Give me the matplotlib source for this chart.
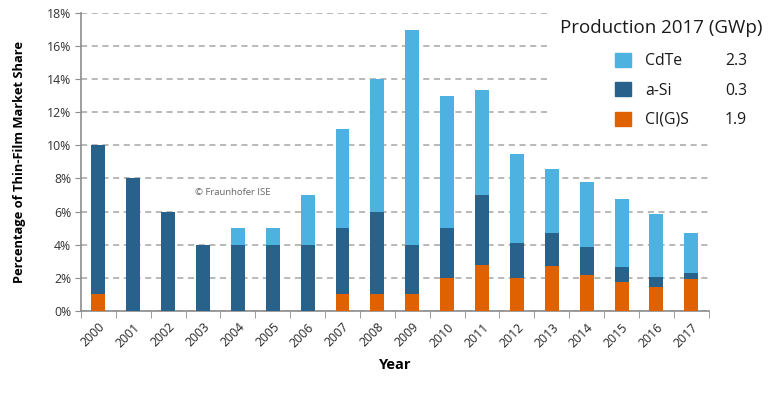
import numpy as np
import matplotlib
matplotlib.use("Agg")
import matplotlib.pyplot as plt
from matplotlib.patches import Patch, Rectangle

plt.rcParams['font.family'] = ['Open Sans', 'DejaVu Sans']

# data (percent of thin-film market share)
years = [str(y) for y in range(2000, 2018)]
cigs = [1, 0, 0, 0, 0, 0, 0, 1, 1, 1, 2, 2.8, 2.0, 2.7, 2.15, 1.77, 1.45, 1.94]
asi = [9, 8, 6, 4, 4, 4, 4, 4, 5, 3, 3, 4.2, 2.1, 2.0, 1.7, 0.88, 0.59, 0.32]
cdte = [0, 0, 0, 0, 1, 1, 3, 6, 8, 13, 8, 6.35, 5.4, 3.9, 3.95, 4.12, 3.82, 2.44]
prod_names = ['CdTe', 'a-Si', 'CI(G)S']
prod_2017 = ['2.3', '0.3', '1.9']

c_cdte = '#4EB2E0'
c_asi = '#28628A'
c_cigs = '#DF6100'
grid_c = '#A6A6A6'
spine_c = '#8C8C8C'

W, H = 778, 395
fig = plt.figure(figsize=(W / 100, H / 100), dpi=100)
ax = fig.add_axes([0.104, 0.213, 0.807, 0.754])

x = np.arange(len(years))
w = 0.4
cigs = np.array(cigs)
asi = np.array(asi)
cdte = np.array(cdte)
ax.bar(x, cigs, w, color=c_cigs, zorder=3)
ax.bar(x, asi, w, bottom=cigs, color=c_asi, zorder=3)
ax.bar(x, cdte, w, bottom=cigs + asi, color=c_cdte, zorder=3)

ax.set_xlim(-0.5, len(years) - 0.5)
ax.set_ylim(0, 18)
ax.set_yticks(np.arange(0, 19, 2))
ax.set_yticklabels(['%d%%' % v for v in range(0, 19, 2)])
ax.set_xticks(x)
ax.set_xticklabels(years, rotation=45, ha='right', rotation_mode='anchor')
ax.set_xticks(np.arange(-0.5, len(years), 1), minor=True)
ax.tick_params(axis='x', which='major', length=0, pad=7, labelsize=8.8, colors='#262626')
ax.tick_params(axis='x', which='minor', length=5, color=spine_c, direction='out')
ax.tick_params(axis='y', length=4, color=spine_c, labelsize=8.8, colors='#333333', pad=3)

ax.yaxis.grid(True, linestyle=(0, (4, 3)), color=grid_c, linewidth=1.1)
ax.set_axisbelow(True)
for s in ['top', 'right']:
    ax.spines[s].set_visible(False)
for s in ['left', 'bottom']:
    ax.spines[s].set_color(spine_c)
    ax.spines[s].set_linewidth(1.2)

ax.set_ylabel('Percentage of Thin-Film Market Share', fontsize=9.3, fontweight='bold', labelpad=15)
ax.set_xlabel('Year', fontsize=10.5, fontweight='bold', labelpad=6)

ax.text(3.86, 7.15, '\u00a9 Fraunhofer ISE', fontsize=6.8, color='#666666', ha='center', va='center')

# white area behind the legend hides the upper gridlines
ax.add_patch(Rectangle((548 / W, 1 - 126 / H), 1, 126 / H, transform=fig.transFigure,
                       facecolor='white', edgecolor='none', zorder=1, clip_on=False))

fig.text(560 / W, 1 - 28 / H, 'Production 2017 (GWp)', fontsize=13.5, color='#1a1a1a',
         ha='left', va='center')

# legend with 2017 production values as a second column
handles = [Patch(color=c_cdte), Patch(color=c_asi), Patch(color=c_cigs)]
handles += [Patch(color='none') for _ in prod_2017]
leg = ax.legend(handles, prod_names + prod_2017, ncol=2,
                loc='upper left', bbox_to_anchor=(615 / W, 1 - 53 / H),
                bbox_transform=fig.transFigure, frameon=False,
                fontsize=11.3, handlelength=1.0, handleheight=1.0,
                handletextpad=0.9, labelspacing=0.82, columnspacing=0.4,
                borderpad=0, borderaxespad=0)
for t in leg.get_texts():
    t.set_color('#1a1a1a')

fig.savefig('out.png', dpi=100)
